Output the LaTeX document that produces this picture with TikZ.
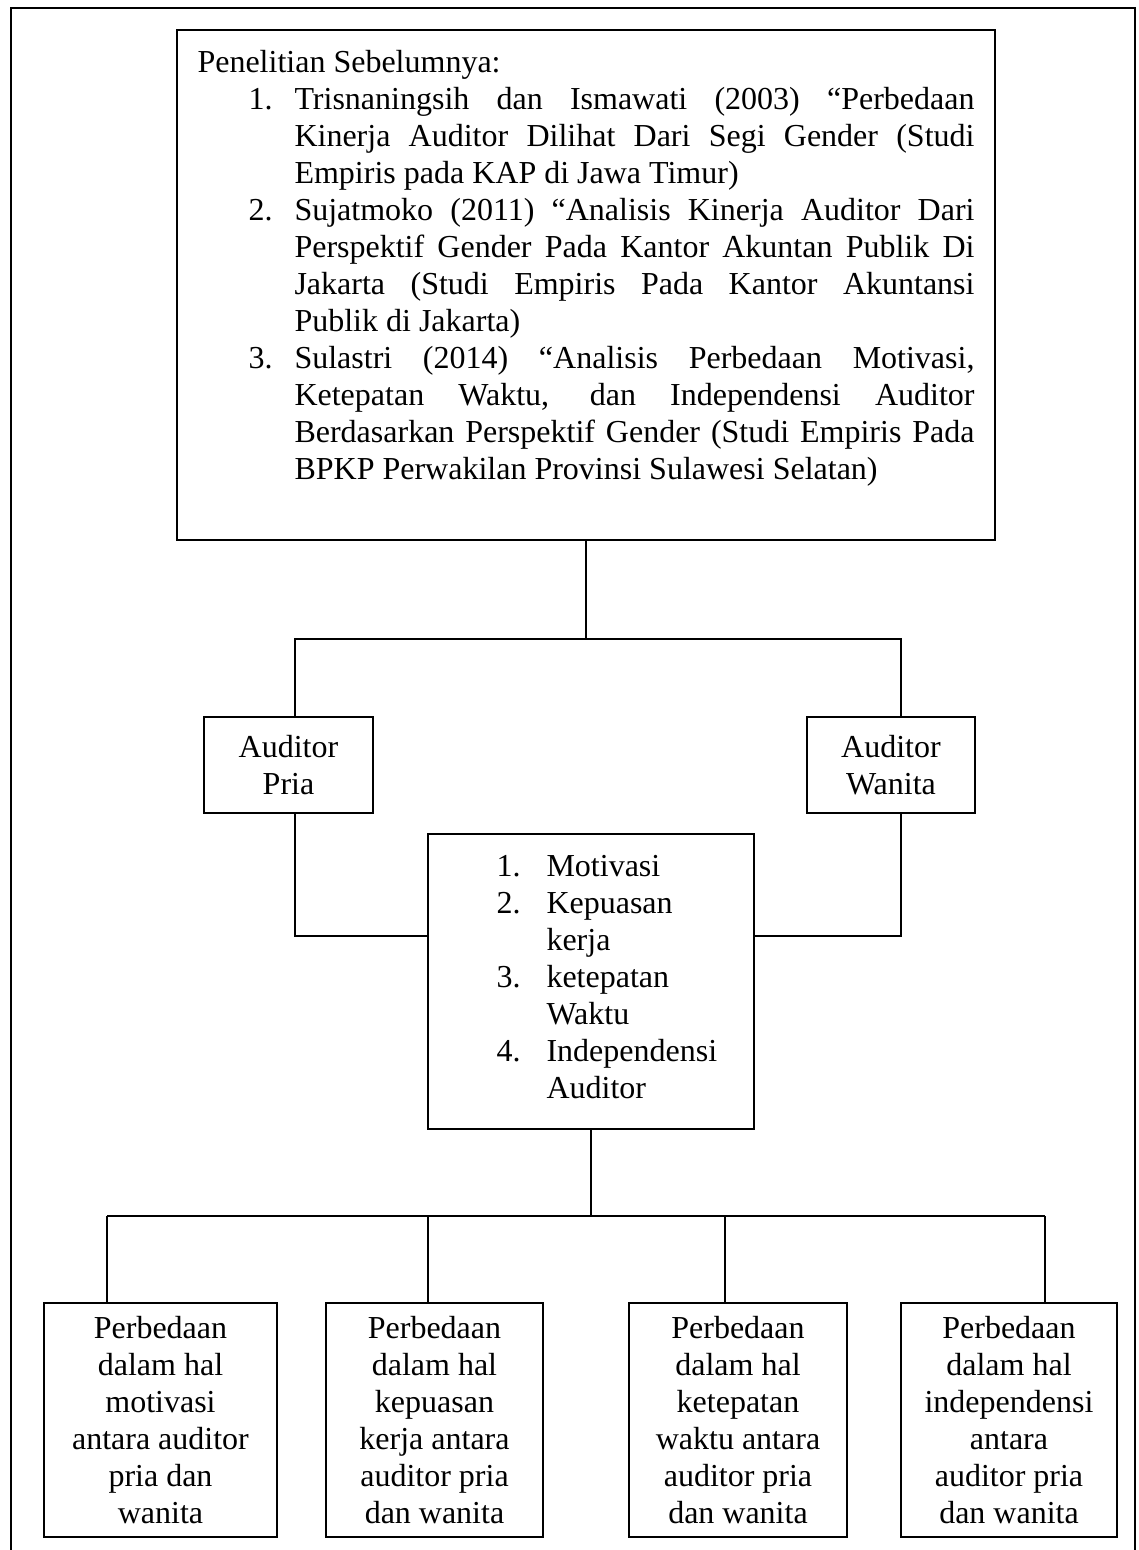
\documentclass[tikz,border=0pt]{standalone}
\usepackage{fontspec}
\setmainfont{Liberation Serif}
\hyphenpenalty=10000
\exhyphenpenalty=10000
\newcommand{\refitem}[1]{\par\leftskip=36.375pt\noindent\llap{\makebox[17.25pt][l]{#1}}}
\newcommand{\aspitem}[1]{\par\leftskip=18.75pt\noindent\llap{\makebox[18.75pt][l]{#1}}}
\tikzset{
  box/.style={draw, line width=0.7pt, inner sep=0pt},
  link/.style={line width=0.7pt},
  body/.style={font=\fontsize{12}{13.875}\selectfont},
}

\begin{document}
\begin{tikzpicture}[x=0.375pt, y=-0.375pt, body]
    \useasboundingbox (0,0) rectangle (1139,1550);
    % frame
    \draw[link] (11,1550) -- (11,8) -- (1135,8) -- (1135,1550);

    % previous research
    \node[box, minimum width=306.75pt, minimum height=191.25pt] (prior) at (586,285) {};
    \node[anchor=north west, inner sep=0pt, text width=291.375pt, align=justify] (priortext) at (197,50) {%
        \tolerance=9999\noindent Penelitian Sebelumnya:
        \refitem{1.}Trisnaningsih dan Ismawati (2003) “Perbedaan\linebreak Kinerja Auditor Dilihat Dari Segi Gender (Studi\linebreak Empiris pada KAP di Jawa Timur)
        \refitem{2.}Sujatmoko (2011) “Analisis Kinerja Auditor Dari\linebreak Perspektif Gender Pada Kantor Akuntan Publik Di\linebreak Jakarta (Studi Empiris Pada Kantor Akuntansi\linebreak Publik di Jakarta)
        \refitem{3.}Sulastri (2014) “Analisis Perbedaan Motivasi,\linebreak Ketepatan Waktu, dan Independensi Auditor\linebreak Berdasarkan Perspektif Gender (Studi Empiris Pada\linebreak BPKP Perwakilan Provinsi Sulawesi Selatan)\par};

    % auditors
    \node[box, minimum width=63.375pt, minimum height=36pt, align=center] (pria) at (288.5,765) {Auditor\\Pria};
    \node[box, minimum width=63pt, minimum height=36pt, align=center] (wanita) at (891,765) {Auditor\\Wanita};

    % aspects
    \node[box, minimum width=122.25pt, minimum height=110.625pt] (aspek) at (591,981.5) {};
    \node[anchor=north west, inner sep=0pt, text width=97.5pt, align=left] (aspektext) at (496,839) {%
        \aspitem{1.}Motivasi
        \aspitem{2.}Kepuasan\\kerja
        \aspitem{3.}ketepatan\\Waktu
        \aspitem{4.}Independensi\\Auditor\par};

    % differences
    \node[box, minimum width=87.375pt, minimum height=87.75pt, align=center] (motivasi) at (160.5,1420) {Perbedaan\\dalam hal\\motivasi\\antara auditor\\pria dan\\wanita};
    \node[box, minimum width=81.375pt, minimum height=87.75pt, align=center] (kepuasan) at (434.5,1420) {Perbedaan\\dalam hal\\kepuasan\\kerja antara\\auditor pria\\dan wanita};
    \node[box, minimum width=81.75pt, minimum height=87.75pt, align=center] (ketepatan) at (738,1420) {Perbedaan\\dalam hal\\ketepatan\\waktu antara\\auditor pria\\dan wanita};
    \node[box, minimum width=81pt, minimum height=87.75pt, align=center] (independensi) at (1009,1420) {Perbedaan\\dalam hal\\independensi\\antara\\auditor pria\\dan wanita};

    % connectors
    \coordinate (forkL) at (295,639);
    \coordinate (forkR) at (901,639);
    \coordinate (joinL) at (295,936);
    \coordinate (joinR) at (901,936);
    \draw[link] (prior.south) -- (prior.south |- forkL);
    \draw[link] (pria.north -| forkL) -- (forkL) -- (forkR) -- (wanita.north -| forkR);
    \draw[link] (pria.south -| joinL) -- (joinL) -- (aspek.west |- joinL);
    \draw[link] (wanita.south -| joinR) -- (joinR) -- (aspek.east |- joinR);

    \coordinate (dropA) at (107,1216);
    \coordinate (dropB) at (428,1216);
    \coordinate (dropC) at (725,1216);
    \coordinate (dropD) at (1045,1216);
    \draw[link] (aspek.south) -- (aspek.south |- dropA);
    \draw[link] (dropA) -- (dropD);
    \draw[link] (dropA) -- (dropA |- motivasi.north);
    \draw[link] (dropB) -- (dropB |- kepuasan.north);
    \draw[link] (dropC) -- (dropC |- ketepatan.north);
    \draw[link] (dropD) -- (dropD |- independensi.north);
\end{tikzpicture}
\end{document}
